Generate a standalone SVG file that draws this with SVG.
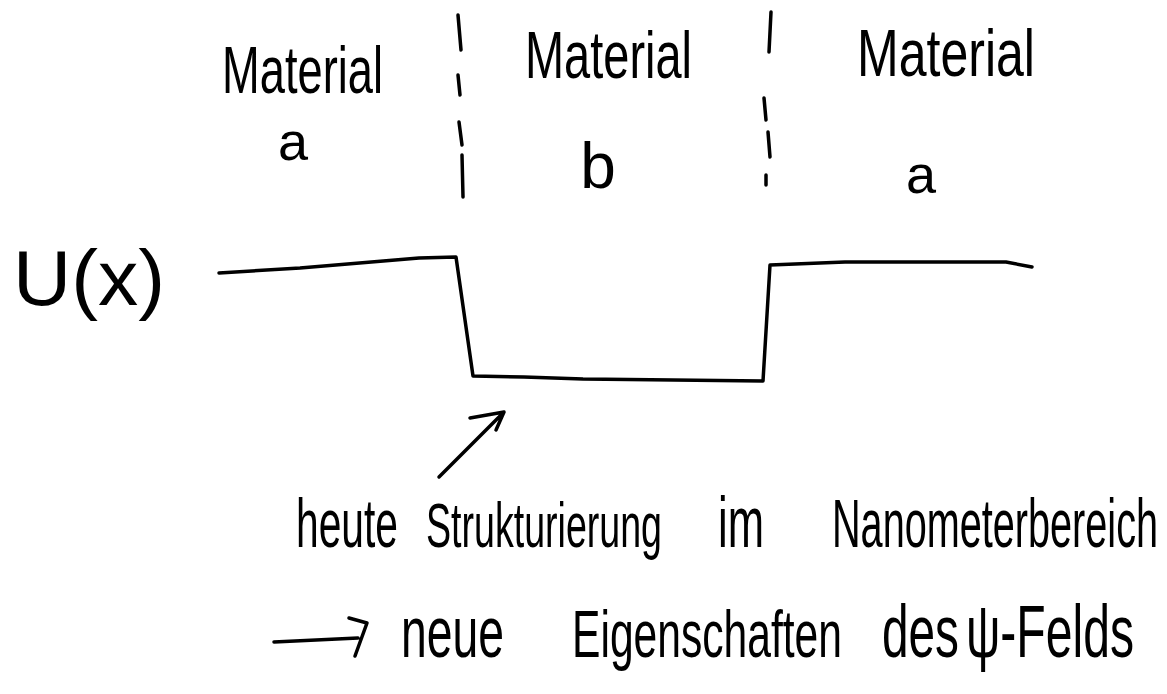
<svg xmlns="http://www.w3.org/2000/svg" width="1167" height="694" viewBox="0 0 1167 694">
<style>
.t{font-family:"Liberation Sans","DejaVu Sans",sans-serif;fill:#000}
.s{fill:none;stroke:#000;stroke-width:3.5;stroke-linecap:round;stroke-linejoin:round}
</style>
<rect width="1167" height="694" fill="#fff"/>
<g id="labels-material">
<text class="t" transform="translate(222,93) scale(1,1.5)" font-size="45" textLength="161" lengthAdjust="spacingAndGlyphs">Material</text>
<text class="t" x="293" y="160" font-size="54" text-anchor="middle">a</text>
<text class="t" transform="translate(525,78) scale(1,1.4)" font-size="47" textLength="167" lengthAdjust="spacingAndGlyphs">Material</text>
<text class="t" x="598" y="188" font-size="64" text-anchor="middle">b</text>
<text class="t" transform="translate(857,76) scale(1,1.35)" font-size="50" textLength="178" lengthAdjust="spacingAndGlyphs">Material</text>
<text class="t" x="921" y="193" font-size="54" text-anchor="middle">a</text>
</g>
<g id="dividers">
<path class="s" d="M458 15 L461 50 M458 75 L460 95 M459 122 L462 145 M462 155 L463 197"/>
<path class="s" d="M771 12 L769 52 M764 98 L766 120 M768 132 L770 157 M766 175 L766 185"/>
</g>
<g id="ulabel">
<text class="t" x="13" y="305" font-size="78" textLength="152" lengthAdjust="spacingAndGlyphs">U(x)</text>
</g>
<g id="potential">
<path class="s" d="M219 273 L300 268 L419 258 L456 257 L473 376 L524 377 L583 379 L763 381 L770 265 L845 262 L1006 262 L1032 267"/>
</g>
<g id="connectors">
<path class="s" d="M439 477 L504 412 M470 418 L504 412 L496 430"/>
<path class="s" d="M274 642 L358 638 M349 618 L367 623 L355 656"/>
</g>
<g id="note1">
<text class="t" transform="translate(296,547) scale(1,1.7)" font-size="40" textLength="102" lengthAdjust="spacingAndGlyphs">heute</text>
<text class="t" transform="translate(426,547) scale(1,1.7)" font-size="37" textLength="236" lengthAdjust="spacingAndGlyphs">Strukturierung</text>
<text class="t" transform="translate(718,547) scale(1,1.7)" font-size="42" textLength="46" lengthAdjust="spacingAndGlyphs">im</text>
<text class="t" transform="translate(832,547) scale(1,1.7)" font-size="40" textLength="326" lengthAdjust="spacingAndGlyphs">Nanometerbereich</text>
</g>
<g id="note2">
<text class="t" transform="translate(401,657) scale(1,1.6)" font-size="45" textLength="103" lengthAdjust="spacingAndGlyphs">neue</text>
<text class="t" transform="translate(572,657) scale(1,1.6)" font-size="42" textLength="270" lengthAdjust="spacingAndGlyphs">Eigenschaften</text>
<text class="t" transform="translate(882,657) scale(1,1.6)" font-size="46" textLength="77" lengthAdjust="spacingAndGlyphs">des</text>
<text class="t" transform="translate(966,657) scale(1,1.6)" font-size="46" textLength="168" lengthAdjust="spacingAndGlyphs">ψ-Felds</text>
</g>
</svg>
